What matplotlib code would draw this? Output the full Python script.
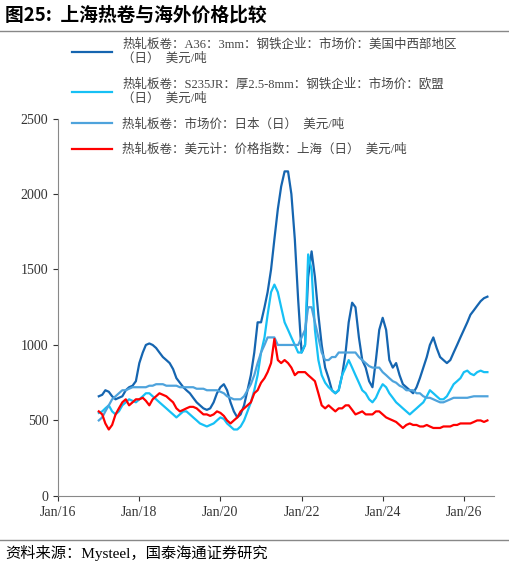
import matplotlib
matplotlib.use("Agg")
import matplotlib.pyplot as plt
import pandas as pd

plt.rcParams['font.family'] = ['Liberation Serif', 'Noto Sans CJK SC']

dates = pd.date_range("2017-01-01", periods=116, freq="MS")
us = [660,670,700,690,660,640,650,660,700,720,730,760,
      880,950,1000,1010,1000,980,950,920,900,880,840,780,
      750,720,700,680,650,620,600,580,570,580,620,680,
      720,740,700,620,560,520,540,600,700,800,950,1150,
      1150,1250,1350,1500,1700,1900,2050,2150,2150,2000,1700,1300,
      950,1000,1450,1620,1450,1200,1000,850,780,700,680,700,
      800,950,1150,1280,1250,1050,900,850,760,720,900,1100,
      1180,1100,900,850,880,800,740,720,700,680,720,780,
      850,920,1000,1050,980,920,900,880,900,950,1000,1050,
      1100,1150,1200,1230,1260,1290,1310,1320]
eu = [550,560,580,600,560,540,560,600,620,640,630,620,
      640,660,680,680,660,640,620,600,580,560,540,520,
      540,560,560,540,520,500,480,470,460,470,480,500,
      520,510,480,460,440,440,460,500,560,620,700,800,
      950,1050,1200,1350,1400,1350,1250,1150,1100,1050,1000,950,
      950,1000,1600,1500,1100,900,800,750,720,700,680,700,
      800,850,900,850,800,750,700,680,640,620,650,700,
      740,720,680,650,620,600,580,560,540,560,580,600,
      620,660,700,680,660,640,640,660,700,740,760,780,
      820,830,810,800,820,830,820,820]
jp = [500,520,560,600,640,660,680,700,700,710,720,720,
      720,720,720,730,730,740,740,740,730,730,730,730,
      720,720,720,720,720,710,710,710,700,700,700,700,
      690,680,660,650,640,640,640,660,700,740,800,880,
      950,1000,1050,1050,1050,1000,1000,1000,1000,1000,1000,1000,
      1050,1100,1250,1250,1150,1050,950,900,900,920,920,950,
      950,950,950,950,950,920,900,880,860,850,850,850,
      820,800,780,760,750,730,720,700,700,700,680,680,
      660,650,650,640,630,620,620,630,640,650,650,650,
      650,650,655,660,660,660,660,660]
sh = [560,540,480,440,470,540,580,620,640,600,620,640,
      640,650,630,600,640,660,680,670,660,640,620,580,
      560,570,580,590,590,580,560,540,540,530,540,560,
      550,530,500,480,500,520,560,580,600,620,680,700,
      750,780,820,880,1040,900,880,900,880,850,800,820,
      820,820,800,780,760,680,600,580,600,580,560,580,
      580,600,600,570,540,550,560,540,540,540,560,560,
      540,520,510,500,490,470,450,470,480,470,470,460,
      460,470,460,450,450,450,460,460,460,470,470,480,
      480,480,480,490,500,500,490,500]
labels = ["热轧板卷：A36：3mm：钢铁企业：市场价：美国中西部地区\n（日）  美元/吨",
          "热轧板卷：S235JR：厚2.5-8mm：钢铁企业：市场价：欧盟\n（日）  美元/吨",
          "热轧板卷：市场价：日本（日）  美元/吨",
          "热轧板卷：美元计：价格指数：上海（日）  美元/吨"]
colors = ["#1565b0", "#16c0f5", "#4ea3dc", "#ff0000"]

fig = plt.figure(figsize=(5.1, 5.7), dpi=100)
ax = fig.add_axes([0.114, 0.13, 0.855, 0.662])
lines = []
for s, c, l in zip([us, eu, jp, sh], colors, labels):
    ln, = ax.plot(dates, s, color=c, lw=1.6, label=l)
    lines.append(ln)
ax.set_ylim(0, 2500)
ax.set_yticks(range(0, 2501, 500))
ax.set_xlim(pd.Timestamp("2016-01-01"), pd.Timestamp("2026-10-01"))
ticks = [pd.Timestamp(f"{y}-01-01") for y in range(2016, 2027, 2)]
ax.set_xticks(ticks)
ax.set_xticklabels([f"Jan/{str(y)[2:]}" for y in range(2016, 2027, 2)])
ax.tick_params(labelsize=10, colors="#333333")
for sp in ["top", "right"]:
    ax.spines[sp].set_visible(False)
ax.spines["left"].set_color("#888888")
ax.spines["bottom"].set_color("#888888")
fig.legend(handles=lines, loc="upper left", bbox_to_anchor=(0.12, 0.952),
           frameon=False, handlelength=3.2, labelspacing=1.05,
           labelcolor="#444444", prop={'family': ['Liberation Serif', 'Noto Sans CJK SC'], 'size': 9})
fig.text(0.01, 0.99, "图25:  上海热卷与海外价格比较", fontsize=13.5, fontweight="bold",
         va="top", family=['Noto Sans CJK SC'])
fig.add_artist(plt.Line2D([0.0, 1.0], [0.945, 0.945], color="#888888", lw=1))
fig.add_artist(plt.Line2D([0.0, 1.0], [0.052, 0.052], color="#888888", lw=1))
fig.text(0.01, 0.03, "资料来源：Mysteel，国泰海通证券研究", fontsize=11, va="center",
         family=['Liberation Serif', 'Noto Sans CJK SC'])
fig.savefig("out.png", dpi=100)
